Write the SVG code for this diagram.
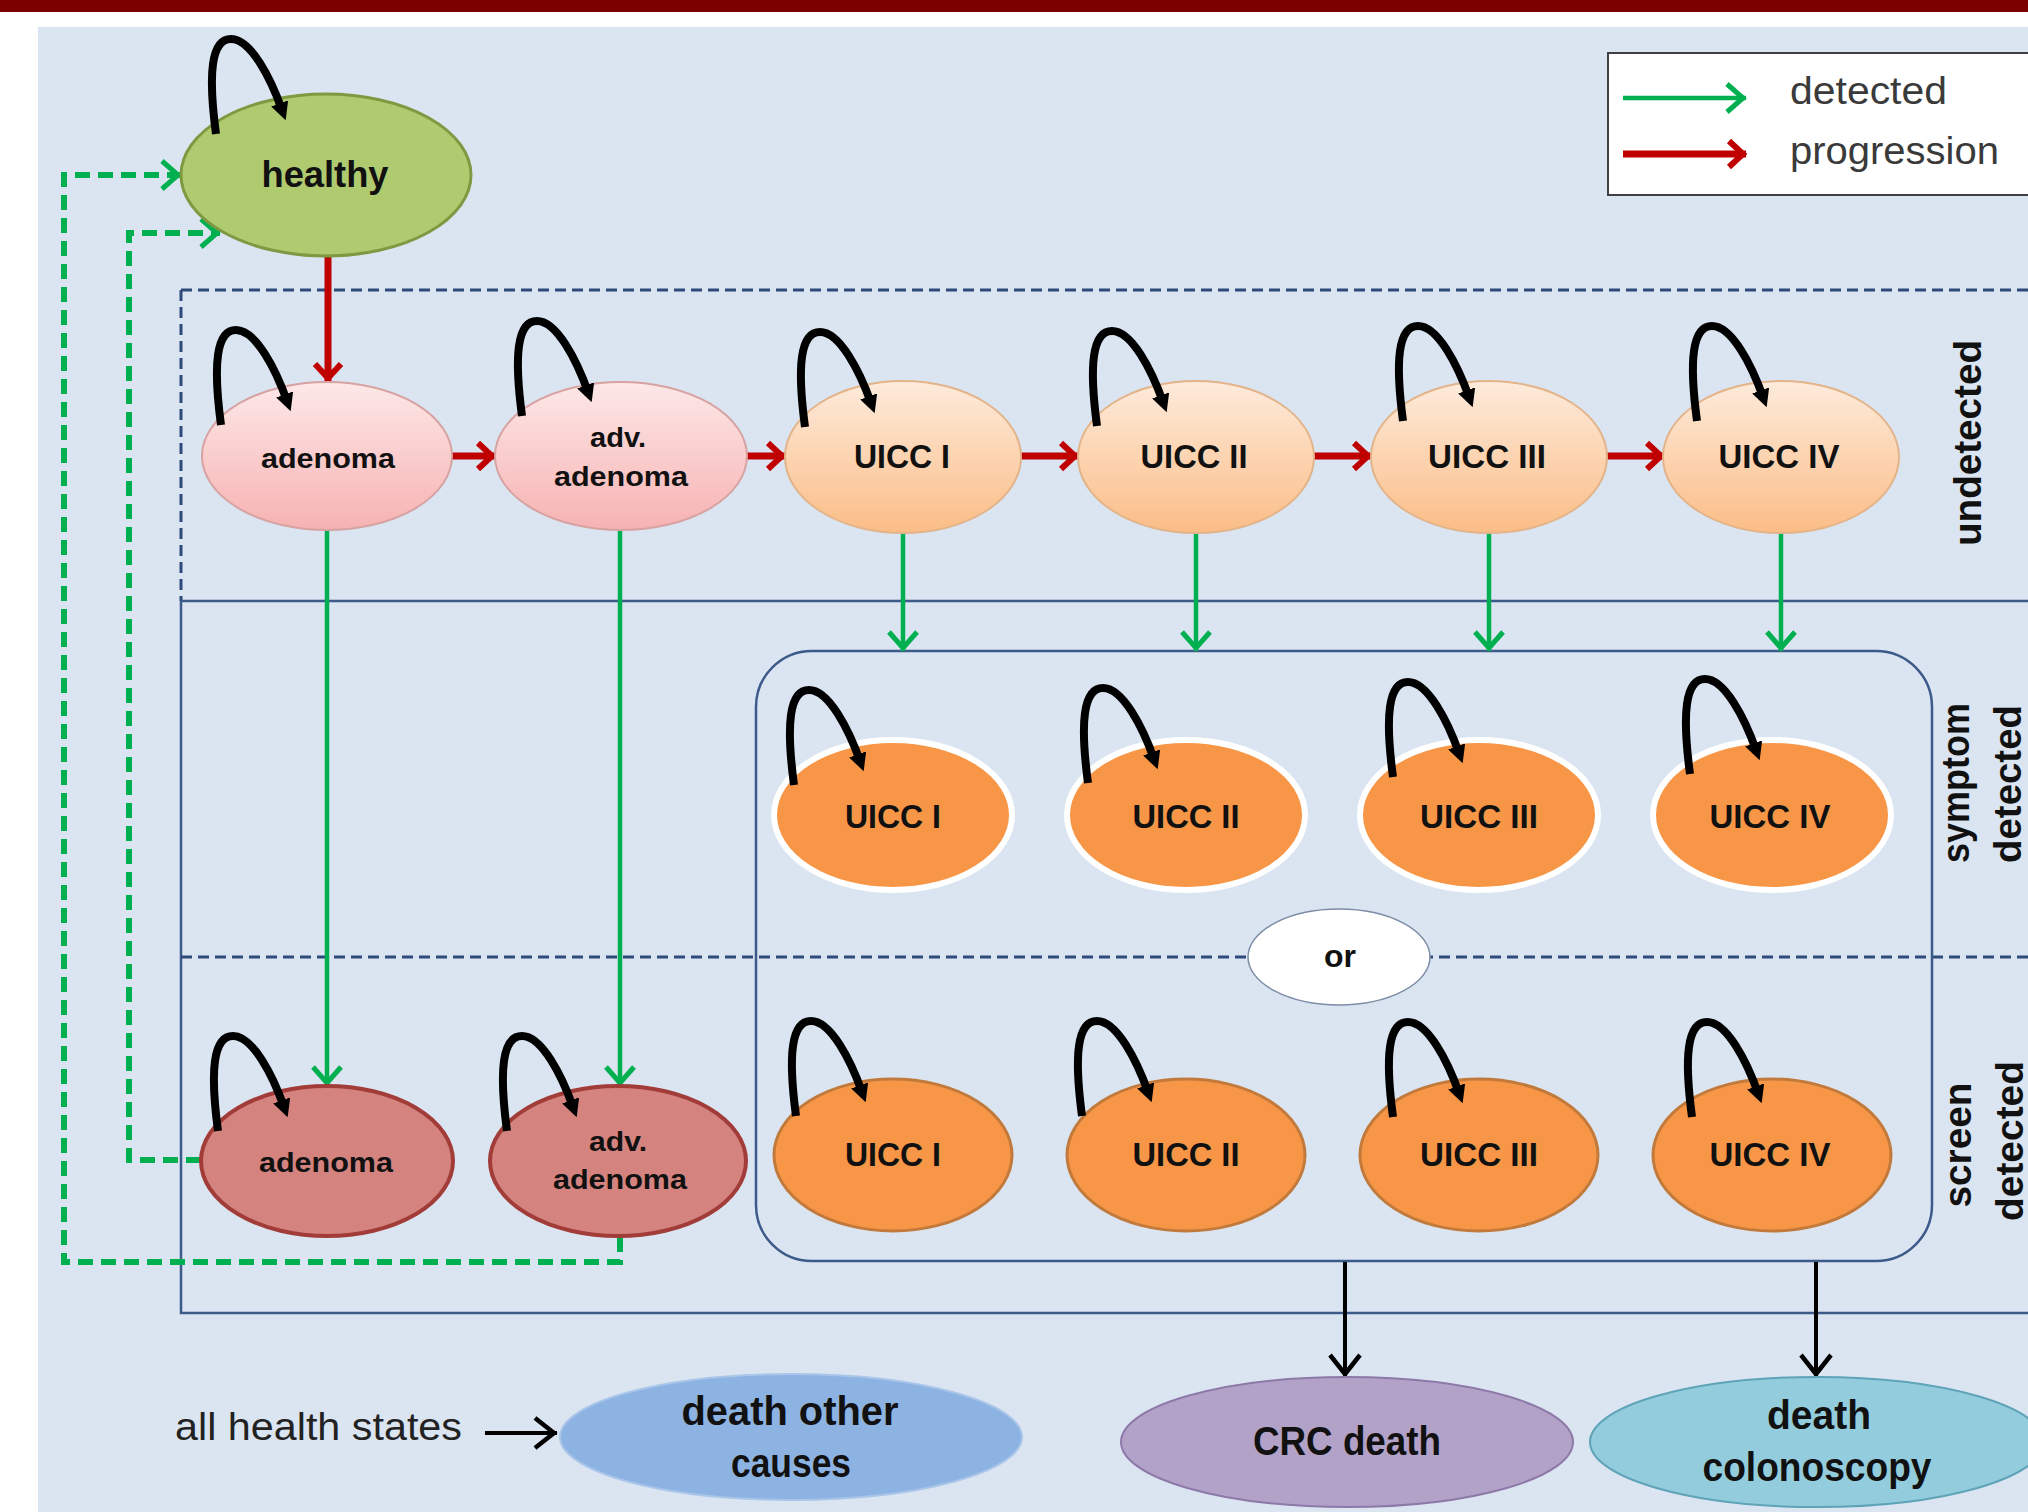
<svg xmlns="http://www.w3.org/2000/svg" width="2028" height="1512" viewBox="0 0 2028 1512">
<defs>
  <linearGradient id="gPink" x1="0" y1="0" x2="0" y2="1">
    <stop offset="0" stop-color="#fde8e8"/><stop offset="1" stop-color="#f7b2b2"/>
  </linearGradient>
  <linearGradient id="gPeach" x1="0" y1="0" x2="0" y2="1">
    <stop offset="0" stop-color="#fdebdc"/><stop offset="1" stop-color="#fbbd86"/>
  </linearGradient>
  <marker id="mLoop" markerUnits="userSpaceOnUse" viewBox="0 0 18 18" markerWidth="18" markerHeight="18" refX="7" refY="9" orient="auto">
    <path d="M0,0 L18,9 L0,18 z" fill="#000"/>
  </marker>
  <marker id="mRed" markerUnits="userSpaceOnUse" overflow="visible" markerWidth="1" markerHeight="1" refX="0" refY="0" orient="auto">
    <path d="M-17,-13 L-3,0 L-17,13" fill="none" stroke="#c00000" stroke-width="6"/>
  </marker>
  <marker id="mGreen" markerUnits="userSpaceOnUse" overflow="visible" markerWidth="1" markerHeight="1" refX="0" refY="0" orient="auto">
    <path d="M-19,-14 L-3,0 L-19,14" fill="none" stroke="#00b050" stroke-width="5"/>
  </marker>
  <marker id="mBlack" markerUnits="userSpaceOnUse" overflow="visible" markerWidth="1" markerHeight="1" refX="0" refY="0" orient="auto">
    <path d="M-22,-15 L-3,0 L-22,15" fill="none" stroke="#000" stroke-width="4.5"/>
  </marker>
  <style>
    .lbl { font-family: "Liberation Sans", Arial, sans-serif; font-weight: bold; fill: #111; text-anchor: middle; }
    .uicc { font-size: 33px; }
    .aden { font-size: 28px; }
    .death { font-size: 40px; }
    .side { font-family: "Liberation Sans", Arial, sans-serif; font-weight: bold; font-size: 38px; fill: #111; text-anchor: middle; }
    .reg { font-family: "Liberation Sans", Arial, sans-serif; font-size: 38px; }
    .loop { fill: none; stroke: #000; stroke-width: 8; marker-end: url(#mLoop); }
    .prog { fill: none; stroke: #c00000; stroke-width: 7; marker-end: url(#mRed); }
    .det { fill: none; stroke: #00b050; stroke-width: 4.5; marker-end: url(#mGreen); }
    .back { fill: none; stroke: #00b050; stroke-width: 6; stroke-dasharray: 15 8; marker-end: url(#mGreen); }
    .blk { fill: none; stroke: #000; stroke-width: 4; marker-end: url(#mBlack); }
    .solid { fill: none; stroke: #3c5a8a; stroke-width: 2.5; }
    .dash { fill: none; stroke: #2e4a7a; stroke-width: 3; stroke-dasharray: 11 6; }
    .u-ad { fill: url(#gPink); stroke: #d7a3a2; stroke-width: 2; }
    .u-cc { fill: url(#gPeach); stroke: #e3b48a; stroke-width: 2; }
    .s-cc { fill: #f79646; stroke: #ffffff; stroke-width: 6; }
    .c-cc { fill: #f79646; stroke: #c27a3c; stroke-width: 3; }
    .c-ad { fill: #d4837f; stroke: #a23c38; stroke-width: 4; }
  </style>
  <path id="loopShape" d="M0,0 C-8,-60 -5,-95 15,-95 C35,-95 55,-55 66,-24"/>
</defs>

<!-- background -->
<rect x="0" y="0" width="2028" height="1512" fill="#ffffff"/>
<rect x="0" y="0" width="2028" height="12" fill="#7c0000"/>
<rect x="38" y="27" width="1990" height="1485" fill="#dbe5f1"/>

<!-- region frames -->
<g id="frames">
  <path class="dash" d="M181,290 L2028,290 M181,290 L181,601"/>
  <path class="solid" d="M181,601 L2028,601 M181,601 L181,1313 L2028,1313"/>
  <path class="dash" d="M181,957 L2028,957"/>
  <rect class="solid" x="756" y="651" width="1176" height="610" rx="56" ry="56"/>
</g>

<!-- legend -->
<g id="legend">
  <rect x="1608" y="53" width="440" height="142" fill="#ffffff" stroke="#404040" stroke-width="2"/>
  <line x1="1623" y1="98" x2="1746" y2="98" class="det" stroke-width="5.5"/>
  <line x1="1623" y1="154" x2="1746" y2="154" class="prog" stroke-width="6"/>
  <text class="reg" x="1790" y="104" fill="#3a3a3a" textLength="157" lengthAdjust="spacingAndGlyphs">detected</text>
  <text class="reg" x="1790" y="164" fill="#3a3a3a" textLength="209" lengthAdjust="spacingAndGlyphs">progression</text>
</g>

<!-- connectors -->
<g id="connectors">
  <!-- progression -->
  <line class="prog" x1="328" y1="257" x2="328" y2="381"/>
  <line class="prog" x1="452" y1="456" x2="495" y2="456"/>
  <line class="prog" x1="747" y1="456" x2="785" y2="456"/>
  <line class="prog" x1="1021" y1="456" x2="1078" y2="456"/>
  <line class="prog" x1="1314" y1="456" x2="1371" y2="456"/>
  <line class="prog" x1="1607" y1="456" x2="1664" y2="456"/>
  <!-- detected -->
  <line class="det" x1="327" y1="530" x2="327" y2="1086"/>
  <line class="det" x1="620" y1="530" x2="620" y2="1086"/>
  <line class="det" x1="903" y1="533" x2="903" y2="651"/>
  <line class="det" x1="1196" y1="533" x2="1196" y2="651"/>
  <line class="det" x1="1489" y1="533" x2="1489" y2="651"/>
  <line class="det" x1="1781" y1="533" x2="1781" y2="651"/>
  <!-- back to healthy -->
  <path class="back" d="M620,1237 L620,1262 L64,1262 L64,175 L181,175"/>
  <path class="back" d="M201,1160 L129,1160 L129,233 L220,233"/>
  <!-- deaths -->
  <line class="blk" x1="1345" y1="1262" x2="1345" y2="1377"/>
  <line class="blk" x1="1816" y1="1262" x2="1816" y2="1377"/>
  <line class="blk" x1="485" y1="1433" x2="557" y2="1433"/>
</g>

<!-- nodes -->
<g id="healthy">
  <ellipse cx="326" cy="175" rx="145" ry="81" fill="#afca6f" stroke="#7d9a42" stroke-width="3"/>
  <use href="#loopShape" class="loop" x="216" y="134"/>
  <text class="lbl" x="325" y="187" font-size="36" textLength="127" lengthAdjust="spacingAndGlyphs">healthy</text>
</g>

<g id="adenoma-undetected">
  <ellipse class="u-ad" cx="327" cy="456" rx="125" ry="74"/>
  <use href="#loopShape" class="loop" x="221" y="425"/>
  <text class="lbl aden" x="328" y="468" textLength="134" lengthAdjust="spacingAndGlyphs">adenoma</text>
</g>
<g id="advadenoma-undetected">
  <ellipse class="u-ad" cx="621" cy="456" rx="126" ry="74"/>
  <use href="#loopShape" class="loop" x="522" y="416"/>
  <text class="lbl aden" x="618" y="447" textLength="56" lengthAdjust="spacingAndGlyphs">adv.</text>
  <text class="lbl aden" x="621" y="486" textLength="134" lengthAdjust="spacingAndGlyphs">adenoma</text>
</g>
<g id="uicc1-undetected">
  <ellipse class="u-cc" cx="903" cy="457" rx="118" ry="76"/>
  <use href="#loopShape" class="loop" x="805" y="427"/>
  <text class="lbl uicc" x="902" y="468" textLength="96" lengthAdjust="spacingAndGlyphs">UICC I</text>
</g>
<g id="uicc2-undetected">
  <ellipse class="u-cc" cx="1196" cy="457" rx="118" ry="76"/>
  <use href="#loopShape" class="loop" x="1097" y="426"/>
  <text class="lbl uicc" x="1194" y="468" textLength="107" lengthAdjust="spacingAndGlyphs">UICC II</text>
</g>
<g id="uicc3-undetected">
  <ellipse class="u-cc" cx="1489" cy="457" rx="118" ry="76"/>
  <use href="#loopShape" class="loop" x="1403" y="421"/>
  <text class="lbl uicc" x="1487" y="468" textLength="118" lengthAdjust="spacingAndGlyphs">UICC III</text>
</g>
<g id="uicc4-undetected">
  <ellipse class="u-cc" cx="1781" cy="457" rx="118" ry="76"/>
  <use href="#loopShape" class="loop" x="1697" y="421"/>
  <text class="lbl uicc" x="1779" y="468" textLength="121" lengthAdjust="spacingAndGlyphs">UICC IV</text>
</g>

<g id="uicc1-symptom">
  <ellipse class="s-cc" cx="893" cy="815" rx="119" ry="75"/>
  <use href="#loopShape" class="loop" x="794" y="785"/>
  <text class="lbl uicc" x="893" y="828" textLength="96" lengthAdjust="spacingAndGlyphs">UICC I</text>
</g>
<g id="uicc2-symptom">
  <ellipse class="s-cc" cx="1186" cy="815" rx="119" ry="75"/>
  <use href="#loopShape" class="loop" x="1088" y="783"/>
  <text class="lbl uicc" x="1186" y="828" textLength="107" lengthAdjust="spacingAndGlyphs">UICC II</text>
</g>
<g id="uicc3-symptom">
  <ellipse class="s-cc" cx="1479" cy="815" rx="119" ry="75"/>
  <use href="#loopShape" class="loop" x="1393" y="777"/>
  <text class="lbl uicc" x="1479" y="828" textLength="118" lengthAdjust="spacingAndGlyphs">UICC III</text>
</g>
<g id="uicc4-symptom">
  <ellipse class="s-cc" cx="1772" cy="815" rx="119" ry="75"/>
  <use href="#loopShape" class="loop" x="1690" y="774"/>
  <text class="lbl uicc" x="1770" y="828" textLength="121" lengthAdjust="spacingAndGlyphs">UICC IV</text>
</g>

<g id="or">
  <ellipse cx="1339" cy="957" rx="91" ry="48" fill="#ffffff" stroke="#7d8da6" stroke-width="1.5"/>
  <text class="lbl" x="1340" y="967" font-size="32">or</text>
</g>

<g id="adenoma-screen">
  <ellipse class="c-ad" cx="327" cy="1161" rx="126" ry="75"/>
  <use href="#loopShape" class="loop" x="218" y="1131"/>
  <text class="lbl aden" x="326" y="1172" textLength="134" lengthAdjust="spacingAndGlyphs">adenoma</text>
</g>
<g id="advadenoma-screen">
  <ellipse class="c-ad" cx="618" cy="1161" rx="128" ry="75"/>
  <use href="#loopShape" class="loop" x="507" y="1131"/>
  <text class="lbl aden" x="618" y="1151" textLength="58" lengthAdjust="spacingAndGlyphs">adv.</text>
  <text class="lbl aden" x="620" y="1189" textLength="134" lengthAdjust="spacingAndGlyphs">adenoma</text>
</g>
<g id="uicc1-screen">
  <ellipse class="c-cc" cx="893" cy="1155" rx="119" ry="76"/>
  <use href="#loopShape" class="loop" x="796" y="1116"/>
  <text class="lbl uicc" x="893" y="1166" textLength="96" lengthAdjust="spacingAndGlyphs">UICC I</text>
</g>
<g id="uicc2-screen">
  <ellipse class="c-cc" cx="1186" cy="1155" rx="119" ry="76"/>
  <use href="#loopShape" class="loop" x="1082" y="1116"/>
  <text class="lbl uicc" x="1186" y="1166" textLength="107" lengthAdjust="spacingAndGlyphs">UICC II</text>
</g>
<g id="uicc3-screen">
  <ellipse class="c-cc" cx="1479" cy="1155" rx="119" ry="76"/>
  <use href="#loopShape" class="loop" x="1393" y="1117"/>
  <text class="lbl uicc" x="1479" y="1166" textLength="118" lengthAdjust="spacingAndGlyphs">UICC III</text>
</g>
<g id="uicc4-screen">
  <ellipse class="c-cc" cx="1772" cy="1155" rx="119" ry="76"/>
  <use href="#loopShape" class="loop" x="1692" y="1117"/>
  <text class="lbl uicc" x="1770" y="1166" textLength="121" lengthAdjust="spacingAndGlyphs">UICC IV</text>
</g>

<g id="death-other">
  <ellipse cx="791" cy="1437" rx="231" ry="63" fill="#8db3e2" stroke="#a9c6ea" stroke-width="2"/>
  <text class="lbl death" x="790" y="1425" textLength="217" lengthAdjust="spacingAndGlyphs">death other</text>
  <text class="lbl death" x="791" y="1477" textLength="120" lengthAdjust="spacingAndGlyphs">causes</text>
</g>
<g id="crc-death">
  <ellipse cx="1347" cy="1442" rx="226" ry="65" fill="#b3a2c7" stroke="#8d79a8" stroke-width="2"/>
  <text class="lbl death" x="1347" y="1455" textLength="188" lengthAdjust="spacingAndGlyphs">CRC death</text>
</g>
<g id="death-colonoscopy">
  <ellipse cx="1817" cy="1442" rx="227" ry="65" fill="#93cddd" stroke="#5fa3b8" stroke-width="2"/>
  <text class="lbl death" x="1819" y="1429" textLength="104" lengthAdjust="spacingAndGlyphs">death</text>
  <text class="lbl death" x="1817" y="1481" textLength="229" lengthAdjust="spacingAndGlyphs">colonoscopy</text>
</g>

<text class="reg" x="175" y="1440" fill="#222" textLength="287" lengthAdjust="spacingAndGlyphs">all health states</text>

<!-- side labels -->
<g id="side-labels">
  <text class="side" transform="translate(1981,443) rotate(-90)" textLength="206" lengthAdjust="spacingAndGlyphs">undetected</text>
  <text class="side" transform="translate(1969,783) rotate(-90)" textLength="160" lengthAdjust="spacingAndGlyphs">symptom</text>
  <text class="side" transform="translate(2021,784) rotate(-90)" textLength="158" lengthAdjust="spacingAndGlyphs">detected</text>
  <text class="side" transform="translate(1971,1145) rotate(-90)" textLength="125" lengthAdjust="spacingAndGlyphs">screen</text>
  <text class="side" transform="translate(2023,1141) rotate(-90)" textLength="160" lengthAdjust="spacingAndGlyphs">detected</text>
</g>
</svg>
